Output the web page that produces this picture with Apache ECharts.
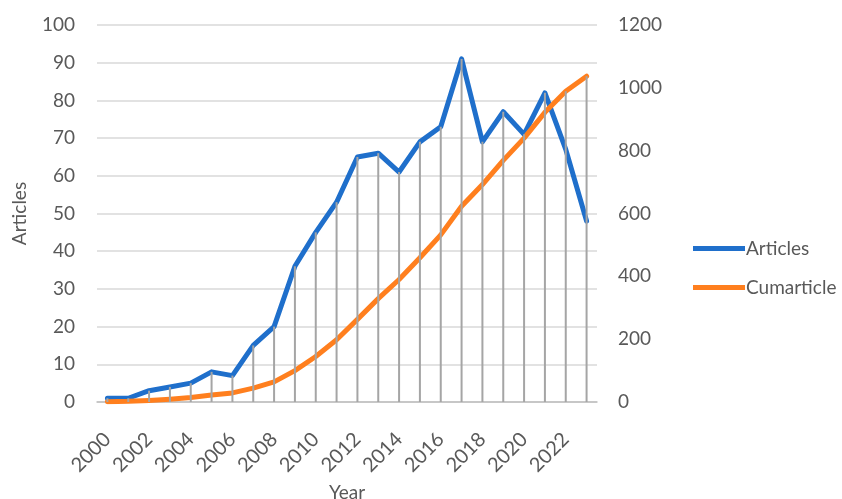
<!DOCTYPE html>
<html>
<head>
<meta charset="utf-8">
<script src="https://cdn.jsdelivr.net/npm/echarts@6/dist/echarts.min.js"></script>
<style>
  html, body { margin: 0; padding: 0; background: #fff; }
  #chart { width: 842px; height: 499px; }
</style>
</head>
<body>
<div id="chart"></div>
<script>
const years = ['2000', '2001', '2002', '2003', '2004', '2005', '2006', '2007', '2008', '2009', '2010', '2011',
  '2012', '2013', '2014', '2015', '2016', '2017', '2018', '2019', '2020', '2021', '2022', '2023']
const articles = [1, 1, 3, 4, 5, 8, 7, 15, 20, 36, 45, 53, 65, 66, 61, 69, 73, 91, 69, 77, 71, 82, 67, 48]
const cumarticle = [1, 2, 5, 9, 14, 22, 29, 44, 64, 100, 145, 198, 263, 329, 390, 459, 532, 623, 692, 769, 840, 922, 989, 1037]
const leftTicks = [0, 100, 10]
const rightTicks = [0, 1200, 200]

// drop lines reach the higher of the two series (right axis scaled onto the left one)
const ratio = rightTicks[1] / leftTicks[1]
const drop = articles.map((v, i) => Math.max(v, cumarticle[i] / ratio))

const txt = '#595959'
const font = 'Lato'

const c = echarts.init(document.getElementById('chart'))
c.setOption({
  animation: false,
  textStyle: { fontFamily: font },
  grid: { left: 97, right: 245, top: 25, bottom: 97, containLabel: false, outerBoundsMode: 'none' },
  legend: {
    orient: 'vertical', left: 688, top: 234, itemGap: 20,
    itemWidth: 52, itemHeight: 5, icon: 'rect',
    data: ['Articles', 'Cumarticle'],
    textStyle: { color: txt, fontSize: 19, fontFamily: font, padding: [0, 0, 0, -4] }
  },
  xAxis: {
    type: 'category', data: years,
    name: 'Year', nameLocation: 'middle', nameGap: 81,
    nameTextStyle: { color: txt, fontSize: 19 },
    axisLine: { lineStyle: { color: '#bfbfbf', width: 1.5 } },
    axisTick: { show: false },
    axisLabel: { rotate: 45, interval: 1, color: txt, fontSize: 20, margin: 34 }
  },
  yAxis: [{
    type: 'value', min: leftTicks[0], max: leftTicks[1], interval: leftTicks[2],
    name: 'Articles', nameLocation: 'middle', nameGap: 68,
    nameTextStyle: { color: txt, fontSize: 19 },
    axisLine: { show: false }, axisTick: { show: false },
    axisLabel: { color: txt, fontSize: 19, margin: 22 },
    splitLine: { lineStyle: { color: '#d9d9d9', width: 1.5 } }
  }, {
    type: 'value', min: rightTicks[0], max: rightTicks[1], interval: rightTicks[2],
    axisLine: { show: false }, axisTick: { show: false },
    axisLabel: { color: txt, fontSize: 19, margin: 21, formatter: v => String(v) },
    splitLine: { show: false }
  }],
  series: [{
    name: 'Articles', type: 'line', data: articles, yAxisIndex: 0,
    symbol: 'none', z: 2,
    lineStyle: { width: 5, color: '#1f6fcb', cap: 'round', join: 'round' },
    itemStyle: { color: '#1f6fcb' }
  }, {
    name: 'Cumarticle', type: 'line', data: cumarticle, yAxisIndex: 1,
    symbol: 'none', z: 2,
    lineStyle: { width: 5, color: '#ff7f1e', cap: 'round', join: 'round' },
    itemStyle: { color: '#ff7f1e' }
  }, {
    name: 'drop', type: 'bar', data: drop, yAxisIndex: 0,
    barWidth: 2, z: 3, silent: true,
    itemStyle: { color: '#a5a5a5' }
  }]
})
</script>
</body>
</html>
